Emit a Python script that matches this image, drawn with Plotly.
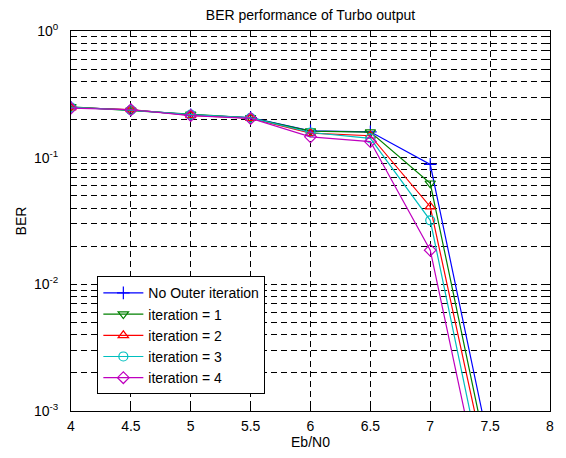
import plotly.graph_objects as go

ebn0 = [4, 4.5, 5, 5.5, 6, 6.5, 7, 7.5]
ber_no_outer = [0.250, 0.238, 0.218, 0.207, 0.163, 0.160, 0.0885, 4.9e-4]
ber_iter1 = [0.252, 0.236, 0.220, 0.206, 0.162, 0.159, 0.0628, 3.5e-4]
ber_iter2 = [0.248, 0.240, 0.216, 0.205, 0.156, 0.149, 0.041, 2.7e-4]
ber_iter3 = [0.250, 0.237, 0.219, 0.206, 0.158, 0.142, 0.032, 1.7e-4]
ber_iter4 = [0.246, 0.239, 0.215, 0.204, 0.146, 0.134, 0.0186, 1.1e-4]

series = [
    ("No Outer iteration", ber_no_outer, "#0000ff", "cross-thin"),
    ("iteration = 1", ber_iter1, "#008000", "triangle-down-open"),
    ("iteration = 2", ber_iter2, "#ff0000", "triangle-up-open"),
    ("iteration = 3", ber_iter3, "#00bfbf", "circle-open"),
    ("iteration = 4", ber_iter4, "#bf00bf", "diamond-open"),
]

ytick_vals = [1e-3, 1e-2, 1e-1, 1]
ytick_text = ["10<sup>-3</sup>", "10<sup>-2</sup>", "10<sup>-1</sup>", "10<sup>0</sup>"]

fig = go.Figure()
for name, vals, col, sym in series:
    fig.add_trace(go.Scatter(
        x=ebn0, y=vals, name=name, mode="lines+markers",
        line=dict(color=col, width=1.2),
        marker=dict(symbol=sym, size=9, color=col, line=dict(color=col, width=1.2)),
        cliponaxis=True,
    ))

grid = dict(gridcolor="#000000", griddash="6px,4px", gridwidth=1)
fig.update_layout(
    width=558, height=450,
    margin=dict(l=58, r=12, t=23, b=41),
    paper_bgcolor="white", plot_bgcolor="white",
    font=dict(family="Liberation Sans, Arial, sans-serif", size=14, color="black"),
    title=dict(text="BER performance of Turbo output", x=0.5, xref="paper", xanchor="center",
               y=0.985, yanchor="middle", font=dict(size=14)),
    xaxis=dict(range=[4, 8], dtick=0.5, tick0=4, showgrid=True, **grid,
               showline=True, linecolor="black", linewidth=1, mirror="ticks",
               ticks="inside", ticklen=5, tickcolor="black", zeroline=False,
               ticklabelstandoff=2,
               title=dict(text="Eb/N0", standoff=2, font=dict(size=14))),
    yaxis=dict(type="log", range=[-3, 0], tickvals=ytick_vals, ticktext=ytick_text,
               showgrid=True, **grid,
               minor=dict(dtick="D1", showgrid=True, gridcolor="#000000", griddash="6px,4px",
                          ticks="inside", ticklen=3, tickcolor="black"),
               showline=True, linecolor="black", linewidth=1, mirror="ticks",
               ticks="inside", ticklen=5, tickcolor="black", zeroline=False,
               ticklabelstandoff=9,
               title=dict(text="BER", standoff=4, font=dict(size=14))),
    legend=dict(x=0.055, y=0.044, xanchor="left", yanchor="bottom",
                bgcolor="white", bordercolor="black", borderwidth=1,
                font=dict(size=14), tracegroupgap=0, itemwidth=40),
    showlegend=True,
)

fig.write_html("out.html")
